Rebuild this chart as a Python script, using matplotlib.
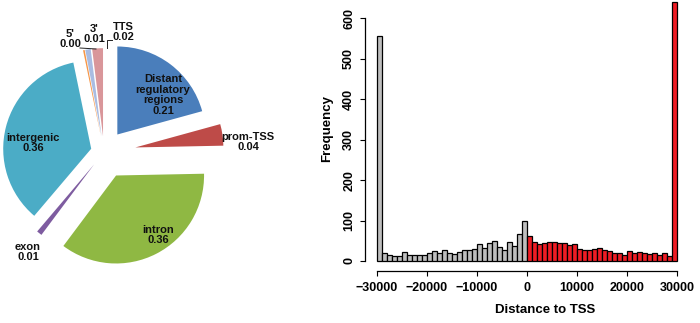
import matplotlib
matplotlib.use("Agg")
import matplotlib.pyplot as plt
import numpy as np

plt.rcParams['font.family'] = ['Liberation Sans', 'DejaVu Sans']
plt.rcParams['font.weight'] = 'bold'

# pie data
regions = ["Distant\nregulatory\nregions", "prom-TSS", "intron", "exon",
           "intergenic", "5'", "3'", "TTS"]
fractions = [0.21, 0.04, 0.36, 0.01, 0.36, 0.003, 0.01, 0.02]
pie_colors = ["#4A7EBB", "#BE4B48", "#8FB843", "#7E5CA0",
              "#4BACC6", "#F79646", "#A9BCE2", "#D9969A"]
explode = [0.25, 0.36, 0.30, 0.18, 0.15, 0.18, 0.18, 0.18]

# histogram data (bins of 1000 bp from -30000 to 30000)
bin_edges = np.arange(-30000, 30001, 1000)
upstream_counts = [557, 19, 14, 12, 13, 22, 14, 14, 14, 14, 20, 25, 20, 26, 21,
                   18, 22, 28, 27, 29, 41, 31, 44, 49, 35, 26, 46, 38, 66, 100]
downstream_counts = [62, 47, 42, 45, 48, 48, 45, 45, 40, 43, 30, 27, 26, 30, 31,
                     26, 25, 20, 19, 16, 24, 21, 23, 20, 17, 21, 14, 19, 12, 640]

W, H = 700, 323
fig = plt.figure(figsize=(W / 100, H / 100), dpi=100)

# ---- pie ----
R = 88.0          # pie radius in px
cx, cy = 104, 152  # pie centre in px (from top-left)
ax1 = fig.add_axes([0, 0, 230 / W, 1])
ax1.pie(fractions, colors=pie_colors, explode=explode, startangle=90,
        counterclock=False, radius=1, wedgeprops=dict(linewidth=0))
ax1.set_xlim(-cx / R, (230 - cx) / R)
ax1.set_ylim(-(H - cy) / R, cy / R)
ax1.set_aspect('equal')
ax1.axis('off')


def ftxt(x, y, s, **kw):
    fig.text(x / W, 1 - y / H, s, ha='center', va='center', fontsize=8,
             fontweight='bold', color='#111111', linespacing=1.05, **kw)


labels = [f"{n}\n{v:.2f}" for n, v in zip(regions, fractions)]
label_px = [(163, 95), (248, 142), (158, 235), (28, 252),
            (33, 143), (70, 39), (94, 34), (123, 32)]
for s, (x, y) in zip(labels, label_px):
    ftxt(x, y, s)

# leader lines for the tiny slices
fig.add_artist(plt.Line2D([80 / W, 96 / W], [1 - 48 / H, 1 - 49 / H],
                          color='#222222', lw=0.7))
fig.add_artist(plt.Line2D([112 / W, 107 / W, 107 / W],
                          [1 - 40 / H, 1 - 40 / H, 1 - 48 / H],
                          color='#222222', lw=0.7))

# ---- histogram ----
upp = 200.0            # x units per px
ypp = 600 / (261 - 18.3)  # y units per px
left_px, right_px, bottom_px = 365, 690, 271
ax2 = fig.add_axes([left_px / W, 1 - bottom_px / H, (right_px - left_px) / W,
                    bottom_px / H])
lefts = bin_edges[:-1]
ax2.bar(lefts[:30], upstream_counts, width=1000, align='edge',
        color='#BEBEBE', edgecolor='black', linewidth=0.9)
ax2.bar(lefts[30:], downstream_counts, width=1000, align='edge',
        color='#EE1C24', edgecolor='black', linewidth=0.9)
ax2.set_xlim(-30000 - (377 - left_px) * upp, -30000 + (right_px - 377) * upp)
ax2.set_ylim(-(bottom_px - 261) * ypp, 261 * ypp)

for sp in ['top', 'right']:
    ax2.spines[sp].set_visible(False)
ax2.spines['left'].set_bounds(0, 600)
ax2.spines['bottom'].set_bounds(-30000, 30000)
ax2.spines['left'].set_linewidth(0.9)
ax2.spines['bottom'].set_linewidth(0.9)

ax2.set_xticks(np.arange(-30000, 30001, 10000))
ax2.set_yticks(np.arange(0, 601, 100))
ax2.tick_params(axis='both', length=3.6, width=0.8, labelsize=9)
ax2.tick_params(axis='x', pad=4)
ax2.tick_params(axis='y', pad=3.5)
ax2.set_xticklabels([f"{int(v)}".replace('-', '\u2212') for v in ax2.get_xticks()],
                    fontweight='bold')
ax2.set_yticklabels([str(int(v)) for v in ax2.get_yticks()], rotation=90,
                    va='center', fontweight='bold')

fig.text(545 / W, 1 - 310 / H, "Distance to TSS", ha='center', va='center',
         fontsize=9.5, fontweight='bold')
fig.text(327 / W, 1 - 128 / H, "Frequency", ha='center', va='center',
         rotation=90, fontsize=9.5, fontweight='bold')

fig.savefig("out.png", dpi=100)
